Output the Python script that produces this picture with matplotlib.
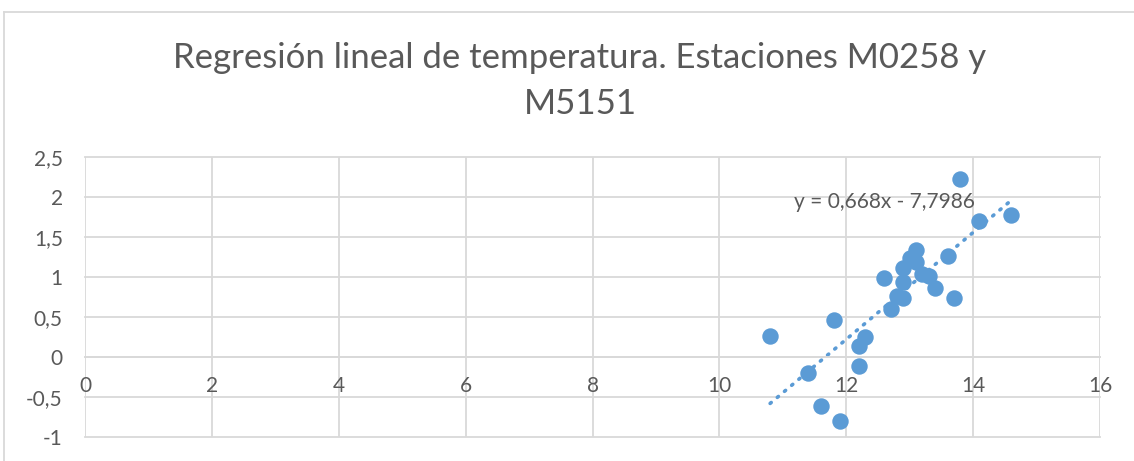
import numpy as np
import matplotlib
matplotlib.use('Agg')
import matplotlib.pyplot as plt
from matplotlib.ticker import FuncFormatter, MultipleLocator
from matplotlib.lines import Line2D

# data
temp_x = [10.8, 11.4, 11.6, 11.8, 11.9, 12.2, 12.2, 12.3, 12.6, 12.7, 12.8, 12.9,
          12.9, 12.9, 13.0, 13.1, 13.1, 13.2, 13.3, 13.4, 13.6, 13.7, 13.8, 14.1, 14.6]
temp_y = [0.26, -0.2, -0.62, 0.46, -0.8, -0.12, 0.13, 0.25, 0.98, 0.6, 0.76, 1.11,
          0.94, 0.74, 1.24, 1.34, 1.19, 1.03, 1.01, 0.86, 1.26, 0.74, 2.22, 1.7, 1.77]
slope = 0.668
intercept = -7.7986
title = 'Regresión lineal de temperatura. Estaciones M0258 y\nM5151'
eq_label = 'y = 0,668x - 7,7986'

blue = '#5B9BD5'
grey = '#D9D9D9'
txt = '#595959'
plt.rcParams['font.family'] = ['Lato', 'DejaVu Sans']

fig = plt.figure(figsize=(11.34, 4.61), dpi=100)
ax = fig.add_axes([85/1134, 1-436.7/461, (1100-85)/1134, (436.7-156.7)/461])

# chart frame
fig.add_artist(Line2D([3.5/1134, 3.5/1134], [0, 1-12/461], color=grey, lw=1.3))
fig.add_artist(Line2D([3.5/1134, 1], [1-12/461, 1-12/461], color=grey, lw=1.3))

fig.text(580/1134, 1-81/461, title, ha='center', va='center', fontsize=25,
         color=txt, linespacing=1.55)

ax.scatter(temp_x, temp_y, s=140, color=blue, zorder=3, linewidths=0)

xs = np.array([min(temp_x), max(temp_x)])
ax.plot(xs, slope*xs + intercept, color=blue, lw=2.6, ls=(0, (0.4, 2.2)),
        dash_capstyle='round', zorder=2)
ax.text(12.6, 1.93, eq_label, ha='center', va='center', fontsize=15, color=txt)

ax.set_xlim(0, 16)
ax.set_ylim(-1, 2.5)
ax.xaxis.set_major_locator(MultipleLocator(2))
ax.yaxis.set_major_locator(MultipleLocator(0.5))
fmt = FuncFormatter(lambda v, p: '{:g}'.format(v).replace('.', ','))
ax.xaxis.set_major_formatter(fmt)
ax.yaxis.set_major_formatter(fmt)

ax.grid(True, color=grey, lw=1.3)
ax.set_axisbelow(True)
for line in ax.get_xgridlines() + ax.get_ygridlines():
    line.set_clip_on(False)
for s in ['left', 'right', 'top']:
    ax.spines[s].set_visible(False)
ax.spines['bottom'].set_position(('data', 0))
ax.spines['bottom'].set_color(grey)
ax.spines['bottom'].set_linewidth(1.3)
ax.tick_params(axis='both', length=0, labelsize=15, labelcolor=txt)
ax.tick_params(axis='x', pad=14)
ax.tick_params(axis='y', pad=16)

fig.savefig('out.png', dpi=100)
